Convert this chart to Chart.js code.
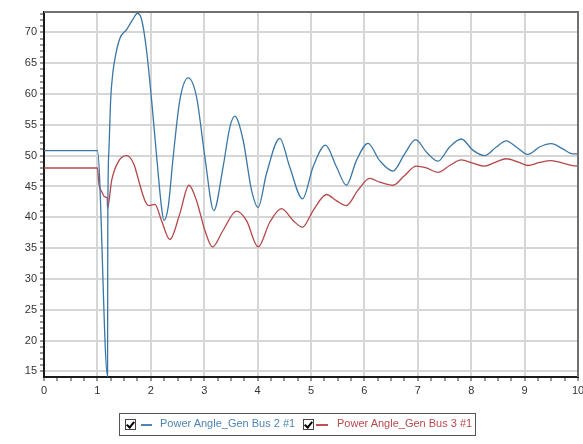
<!DOCTYPE html>
<html>
<head>
<meta charset="utf-8">
<script src="https://cdn.jsdelivr.net/npm/chart.js@4/dist/chart.umd.min.js"></script>
<style>
  body { margin: 0; background: #fff; overflow: hidden; }
  #wrap { position: relative; width: 583px; height: 444px; }
  #legend {
    position: absolute; left: 119px; top: 413px; width: 355px; height: 21px;
    border: 1.5px solid #555; font: 11px "Liberation Sans", Arial, sans-serif;
  }
  .cb { position: absolute; top: 5px; width: 9px; height: 9px; border: 1px solid #444; background: #fff; }
  .cb::after {
    content: ''; position: absolute; left: 2px; top: 0px; width: 3px; height: 6px;
    border: solid #000; border-width: 0 2px 2px 0; transform: rotate(40deg);
  }
  .ln { position: absolute; top: 10px; width: 11px; height: 1.5px; }
  .tx { position: absolute; top: 3px; white-space: nowrap; }
</style>
</head>
<body>
<div id="wrap">
  <canvas id="myChart" width="583" height="444"></canvas>
  <div id="legend">
    <span class="cb" style="left:5px"></span>
    <span class="ln" style="left:21px;background:#4d84b5"></span>
    <span class="tx" style="left:40px;color:#4d84b5">Power Angle_Gen Bus 2 #1</span>
    <span class="cb" style="left:183px"></span>
    <span class="ln" style="left:196px;width:12px;background:#c0504d"></span>
    <span class="tx" style="left:217px;color:#b9484c">Power Angle_Gen Bus 3 #1</span>
  </div>
</div>
<script>
'use strict';

// time (s) and power angle (deg)
let bus2Time = [0, 1.0, 1.19, 1.195, 1.216, 1.248, 1.29, 1.33, 1.42, 1.55, 1.67, 1.75, 1.83, 1.92, 2.015, 2.11, 2.2, 2.245,
  2.326, 2.419, 2.544, 2.70, 2.857, 3.012, 3.18, 3.354, 3.48, 3.573, 3.729, 3.886, 4.01, 4.167, 4.415, 4.60, 4.84,
  5.04, 5.27, 5.476, 5.663, 5.85, 6.067, 6.286, 6.535, 6.754, 6.96, 7.16, 7.377, 7.596, 7.815, 8.03, 8.25, 8.47,
  8.657, 8.844, 9.06, 9.28, 9.50, 9.716, 9.90, 10];
let bus2Angle = [50.8, 50.8, 14.2, 40, 50.9, 59, 63.5, 65.8, 69, 70.5, 72.2, 73.1, 72, 67.1, 59, 49.8, 41.7, 39.5,
  41.7, 49.8, 59, 62.6, 59.5, 49.8, 41.1, 48.2, 54.6, 56.4, 52.5, 44.4, 41.6, 47.1, 52.8, 48.2, 43.0,
  48.2, 51.7, 48.2, 45.2, 49.2, 52.0, 49.2, 47.5, 50.3, 52.6, 50.6, 49.1, 51.4, 52.7, 50.9, 50.0, 51.4,
  52.4, 51.4, 50.2, 51.4, 51.95, 51.1, 50.3, 50.3];

let bus3Time = [0, 1.0, 1.03, 1.08, 1.14, 1.185, 1.19, 1.267, 1.39, 1.547, 1.69, 1.73, 1.89, 1.97, 2.077, 2.2, 2.357,
  2.544, 2.713, 2.857, 3.012, 3.156, 3.354, 3.605, 3.79, 4.01, 4.228, 4.447, 4.664, 4.84, 5.04, 5.29, 5.476,
  5.663, 5.88, 6.10, 6.286, 6.535, 6.754, 6.97, 7.16, 7.377, 7.596, 7.815, 8.03, 8.25, 8.47, 8.657, 8.87,
  9.06, 9.28, 9.50, 9.716, 9.90, 10];
let bus3Angle = [48.0, 48.0, 45.3, 44.2, 43.3, 43.1, 41.4, 46, 49.0, 50.0, 48.5, 47.3, 42.7, 41.9, 42.1, 39.5, 36.4,
  40.6, 45.2, 42.7, 37.9, 35.2, 37.9, 41.0, 39.5, 35.2, 39.2, 41.4, 39.5, 38.4, 41.1, 43.7, 42.7,
  41.9, 44.4, 46.3, 45.7, 45.2, 46.8, 48.3, 48.0, 47.3, 48.4, 49.3, 48.8, 48.3, 49.0, 49.5, 49.0,
  48.4, 48.9, 49.2, 48.8, 48.4, 48.3];

let seriesNames = ['Power Angle_Gen Bus 2 #1', 'Power Angle_Gen Bus 3 #1'];

let xMin = 0, xMax = 10, xMinorStep = 0.25;
let yMin = 14.1, yMax = 73.3, yMajorStep = 5, yMinorStep = 1;

function toPoints(times, values) {
  return times.map((t, i) => ({ x: t, y: values[i] }));
}

function isMultiple(v, step) {
  return Math.abs(v - Math.round(v / step) * step) < 1e-6;
}

const frameBorder = {
  id: 'frameBorder',
  afterDatasetsDraw(chart) {
    const a = chart.chartArea;
    const c = chart.ctx;
    c.save();
    c.lineWidth = 2;
    c.strokeStyle = '#707070';
    c.beginPath();
    c.moveTo(a.left, a.top);
    c.lineTo(a.right, a.top);
    c.lineTo(a.right, a.bottom);
    c.stroke();
    c.restore();
  }
};

const font = { family: '"Liberation Sans", Arial, sans-serif', size: 11 };

let ctx = document.getElementById('myChart').getContext('2d');
new Chart(ctx, {
  type: 'line',
  data: {
    datasets: [
      {
        label: seriesNames[0],
        data: toPoints(bus2Time, bus2Angle),
        borderColor: '#3b77a6',
        borderWidth: 1.3,
        pointRadius: 0,
        cubicInterpolationMode: 'monotone',
      },
      {
        label: seriesNames[1],
        data: toPoints(bus3Time, bus3Angle),
        borderColor: '#b5474a',
        borderWidth: 1.3,
        pointRadius: 0,
        cubicInterpolationMode: 'monotone',
      },
    ],
  },
  options: {
    responsive: false,
    animation: false,
    devicePixelRatio: 1,
    layout: { autoPadding: false, padding: { top: 12, right: 5, left: 0, bottom: 0 } },
    plugins: { legend: { display: false }, tooltip: { enabled: false } },
    scales: {
      x: {
        type: 'linear',
        min: xMin,
        max: xMax,
        afterFit(scale) {
          scale.height = 67;
          scale.paddingLeft = 0;
          scale.paddingRight = 0;
        },
        border: { color: '#1a1a1a', width: 2 },
        grid: {
          color: (c) => (c.tick && isMultiple(c.tick.value, 1) ? '#d6d6d6' : 'rgba(0,0,0,0)'),
          lineWidth: 2,
          tickLength: 4,
          tickWidth: 1,
          tickColor: '#333',
        },
        ticks: {
          stepSize: xMinorStep,
          autoSkip: false,
          maxRotation: 0,
          padding: 3,
          color: '#333',
          font: font,
          callback: (v) => (isMultiple(v, 1) ? String(v) : ''),
        },
      },
      y: {
        min: yMin,
        max: yMax,
        afterBuildTicks(scale) {
          let list = [];
          for (let v = Math.ceil(yMin); v <= Math.floor(yMax); v += yMinorStep) list.push({ value: v });
          scale.ticks = list;
        },
        afterFit(scale) {
          scale.width = 44;
          scale.paddingTop = 0;
          scale.paddingBottom = 0;
        },
        border: { color: '#1a1a1a', width: 2 },
        grid: {
          color: (c) => (c.tick && isMultiple(c.tick.value, yMajorStep) ? '#d6d6d6' : 'rgba(0,0,0,0)'),
          lineWidth: 2,
          tickLength: 4,
          tickWidth: 1,
          tickColor: '#333',
        },
        ticks: {
          autoSkip: false,
          padding: 3,
          color: '#333',
          font: font,
          callback: (v) => (isMultiple(v, yMajorStep) ? String(Math.round(v)) : ''),
        },
      },
    },
  },
  plugins: [frameBorder],
});
</script>
</body>
</html>
